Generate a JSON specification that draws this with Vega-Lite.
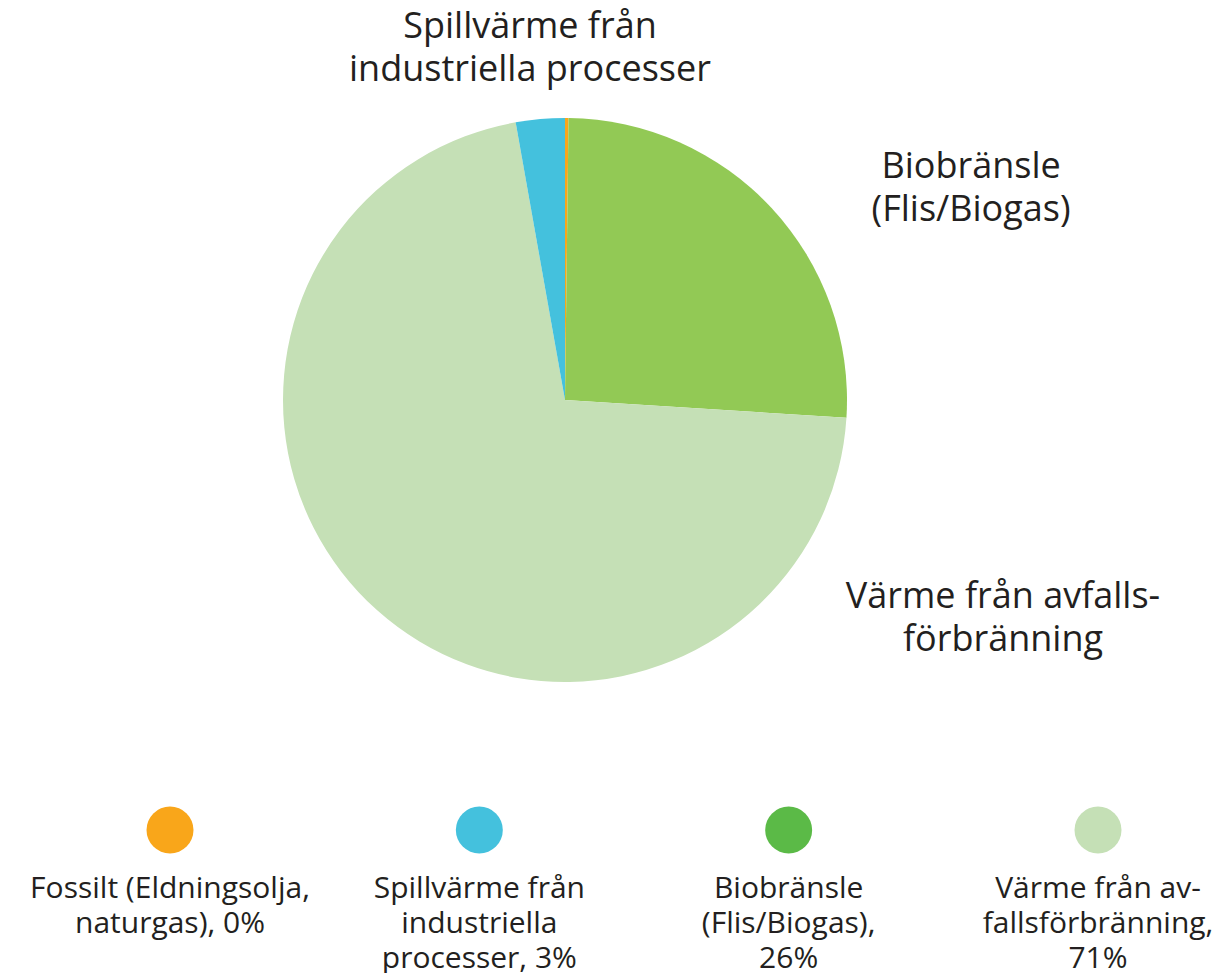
{
  "$schema": "https://vega.github.io/schema/vega-lite/v6.json",
  "background": "white",
  "padding": 0,
  "autosize": {"type": "pad"},
  "config": {"view": {"stroke": null}, "text": {"font": "Open Sans", "color": "#231F20", "lineBreak": "\n"}},
  "datasets": {
    "energy": [
      {"category": "Fossilt", "label": "", "legendLabel": "Fossilt (Eldningsolja,\nnaturgas), 0%", "value": 0.2, "pieOrder": 1},
      {"category": "Biobränsle", "label": "Biobränsle\n(Flis/Biogas)", "legendLabel": "Biobränsle\n(Flis/Biogas),\n26%", "value": 25.8, "pieOrder": 2},
      {"category": "Värme", "label": "Värme från avfalls-\nförbränning", "legendLabel": "Värme från av-\nfallsförbränning,\n71%", "value": 71.2, "pieOrder": 3},
      {"category": "Spillvärme", "label": "Spillvärme från\nindustriella processer", "legendLabel": "Spillvärme från\nindustriella\nprocesser, 3%", "value": 2.8, "pieOrder": 4}
    ]
  },
  "resolve": {"scale": {"color": "independent"}},
  "spacing": 0,
  "vconcat": [
    {
      "width": 1130,
      "height": 800,
      "data": {"name": "energy"},
      "encoding": {
        "theta": {"field": "value", "type": "quantitative", "stack": true},
        "order": {"field": "pieOrder", "type": "quantitative"}
      },
      "layer": [
        {
          "mark": {"type": "arc", "outerRadius": 282},
          "encoding": {
            "color": {"field": "category", "type": "nominal", "legend": null,
              "scale": {"domain": ["Fossilt", "Spillvärme", "Biobränsle", "Värme"], "range": ["#F9A61A", "#44C1DD", "#92C955", "#C5E0B6"]}}
          }
        },
        {
          "mark": {"type": "text", "radius": 350, "lineHeight": 43, "align": "center", "baseline": "alphabetic", "lineBreak": "\n", "dx": -4.3, "dy": -13.4},
          "encoding": {
            "size": {"condition": {"test": "datum.category === 'Spillvärme'", "value": 36}, "value": 0},
            "text": {"condition": {"test": "datum.category === 'Spillvärme'", "field": "label"}, "value": ""}
          }
        },
        {
          "mark": {"type": "text", "radius": 350, "lineHeight": 43, "align": "center", "baseline": "alphabetic", "lineBreak": "\n", "dx": 149.4, "dy": 16},
          "encoding": {
            "size": {"condition": {"test": "datum.category === 'Biobränsle'", "value": 36}, "value": 0},
            "text": {"condition": {"test": "datum.category === 'Biobränsle'", "field": "label"}, "value": ""}
          }
        },
        {
          "mark": {"type": "text", "radius": 0, "lineHeight": 43, "align": "center", "baseline": "alphabetic", "lineBreak": "\n", "dx": 438, "dy": 208},
          "encoding": {
            "size": {"condition": {"test": "datum.category === 'Värme'", "value": 36}, "value": 0},
            "text": {"condition": {"test": "datum.category === 'Värme'", "field": "label"}, "value": ""}
          }
        }
      ]
    },
    {
      "width": 1220,
      "height": 60,
      "data": {"name": "energy"},
      "encoding": {
        "x": {"field": "category", "type": "nominal", "sort": ["Fossilt", "Spillvärme", "Biobränsle", "Värme"],
          "scale": {"type": "point", "range": [170, 1098], "padding": 0}, "axis": null}
      },
      "layer": [
        {
          "mark": {"type": "point", "filled": true, "shape": "circle", "size": 2206, "opacity": 1},
          "encoding": {
            "color": {"field": "category", "type": "nominal", "legend": null,
              "scale": {"domain": ["Fossilt", "Spillvärme", "Biobränsle", "Värme"], "range": ["#F9A61A", "#44C1DD", "#5BBA47", "#C5E0B6"]}}
          }
        },
        {
          "mark": {"type": "text", "fontSize": 30, "lineHeight": 35, "align": "center", "baseline": "alphabetic", "lineBreak": "\n", "dy": 68},
          "encoding": {"text": {"field": "legendLabel"}}
        }
      ]
    }
  ]
}
